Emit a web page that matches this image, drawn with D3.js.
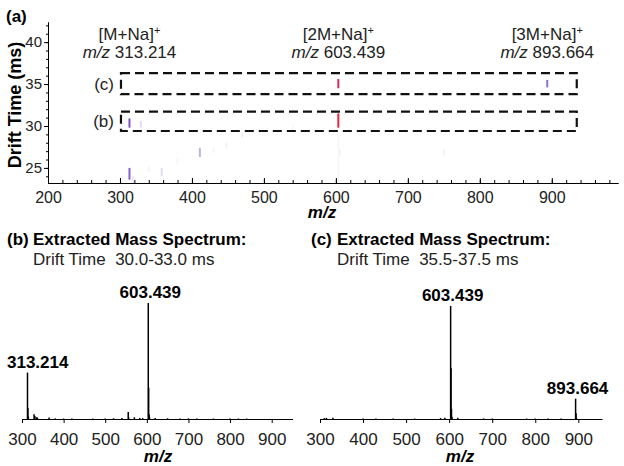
<!DOCTYPE html>
<html>
<head>
<meta charset="utf-8">
<script src="https://cdn.jsdelivr.net/npm/d3@7"></script>
<style>
  body { margin: 0; background: #fff; }
  svg { display: block; font-family: "Liberation Sans", Arial, sans-serif; }
  .axis path, .axis line { stroke: #000; }
  .axis text { fill: #222; font-family: "Liberation Sans", Arial, sans-serif; }
</style>
</head>
<body>
<div id="chart"></div>
<script>
// ion labels above the drift time map
const ionNames = ["[M+Na]", "[2M+Na]", "[3M+Na]"];
const ionMz = [313.214, 603.439, 893.664];

// drift time map spots: m/z, drift low, drift high, relative intensity
const spotMz    = [313.2, 329, 313.2, 318, 358, 411, 448, 470, 603.4, 603.4, 893.7, 605, 750, 603.4, 340, 380, 430, 500, 540];
const spotLow   = [29.8, 29.8, 23.6, 23.2, 24.0, 26.3, 27.3, 28.6, 29.8, 34.5, 34.6, 26.5, 26.5, 23.2, 24.5, 25.5, 26.8, 28.7, 29.5];
const spotHigh  = [30.9, 30.6, 25.0, 24.0, 25.0, 27.4, 28.0, 29.2, 31.5, 35.6, 35.5, 27.2, 27.2, 29.6, 25.2, 26.2, 27.4, 29.3, 30.1];
const spotInt   = [0.7, 0.22, 0.65, 0.15, 0.22, 0.4, 0.1, 0.1, 1.0, 0.95, 0.6, 0.12, 0.08, 0.05, 0.07, 0.07, 0.07, 0.06, 0.06];

// dashed selection boxes (m/z range, drift range)
const boxLabels = ["(c)", "(b)"];
const boxMz = [[301.4, 934.7], [301.4, 934.7]];
const boxDt = [[33.8, 36.3], [29.4, 31.7]];

// extracted spectra: m/z and relative intensity
const specBmz = [313.2, 314.2, 315.2, 329, 331, 335, 337, 365, 380, 400, 420, 470, 500, 520, 540, 555.3, 556.3, 570, 583, 590, 603.4, 604.4, 605.4, 606.4, 620, 650, 680, 700, 720, 760, 800, 820, 840];
const specBint = [40, 9.5, 2, 4, 2.5, 1.5, 1.2, 1.2, 0.5, 0.4, 0.4, 0.4, 0.5, 0.6, 0.8, 6, 1.5, 1.5, 0.8, 0.8, 100, 27, 4, 1.5, 0.8, 0.6, 0.5, 0.5, 0.4, 0.4, 0.4, 0.4, 0.4];
const specCmz = [310, 315, 330, 400, 430, 470, 520, 580, 590, 603.4, 604.4, 605.4, 606.4, 620, 680, 700, 780, 800, 830, 860, 893.7, 894.7, 895.7];
const specCint = [0.8, 1, 1, 0.4, 0.4, 0.4, 0.4, 0.8, 1, 100, 45, 9, 2, 1, 0.5, 0.5, 0.4, 0.4, 0.4, 0.4, 18, 5, 1];
const specBlabels = [[313.214, 40, "start"], [603.439, 100, "middle"]];
const specClabels = [[603.439, 100, "middle"], [893.664, 18, "middle"]];

const xTicksTop = [200, 300, 400, 500, 600, 700, 800, 900];
const yTicksTop = [25, 30, 35, 40];
const xTicksSpec = [300, 400, 500, 600, 700, 800, 900];

const width = 624, height = 466;
const svg = d3.select('#chart').append('svg')
  .attr('width', width)
  .attr('height', height);

// ---------- panel (a): drift time vs m/z ----------
const xTop = d3.scaleLinear().domain([200, 992]).range([48, 618]);
const yTop = d3.scaleLinear().domain([23.2, 42.4]).range([183, 22]);
const color = d3.scaleLinear()
  .domain([0, 0.3, 0.7, 1])
  .range(["#ffffff", "#d9d0ef", "#7a52c6", "#e4283c"]);

const spots = spotMz.map((m, i) => ({ mz: m, lo: spotLow[i], hi: spotHigh[i], v: spotInt[i] }));
svg.append('g')
  .selectAll('rect')
  .data(spots)
  .enter().append('rect')
  .attr('x', d => xTop(d.mz) - 1)
  .attr('width', 2)
  .attr('y', d => yTop(d.hi))
  .attr('height', d => yTop(d.lo) - yTop(d.hi))
  .attr('fill', d => color(d.v));

// x axis, ticks point up into the plot
svg.append('g')
  .attr('class', 'axis')
  .attr('transform', 'translate(0,183)')
  .call(d3.axisBottom(xTop).tickValues(d3.range(200, 992, 20)).tickSize(-3).tickSizeOuter(0).tickFormat(''));
svg.append('g')
  .attr('class', 'axis')
  .attr('transform', 'translate(0,183)')
  .call(d3.axisBottom(xTop).tickValues(xTicksTop).tickSize(-5).tickSizeOuter(0).tickPadding(9))
  .selectAll('text').style('font-size', '16px');

svg.append('g')
  .attr('class', 'axis')
  .attr('transform', 'translate(48,0)')
  .call(d3.axisLeft(yTop).tickValues(d3.range(24, 43, 1)).tickSize(2).tickSizeOuter(0).tickFormat(''));
svg.append('g')
  .attr('class', 'axis')
  .attr('transform', 'translate(48,0)')
  .call(d3.axisLeft(yTop).tickValues(yTicksTop).tickSize(4).tickSizeOuter(0).tickPadding(2))
  .selectAll('text').style('font-size', '15px');

svg.append('text')
  .attr('transform', 'translate(21,105) rotate(-90)')
  .attr('text-anchor', 'middle')
  .style('font-size', '18px')
  .style('font-weight', 'bold')
  .text('Drift Time (ms)');

svg.append('text')
  .attr('x', 322).attr('y', 218)
  .attr('text-anchor', 'middle')
  .style('font-size', '17px').style('font-weight', 'bold').style('font-style', 'italic')
  .text('m/z');

svg.append('text')
  .attr('x', 6).attr('y', 22)
  .style('font-size', '17px').style('font-weight', 'bold')
  .text('(a)');

// selection boxes
boxLabels.forEach((lab, i) => {
  const x0 = xTop(boxMz[i][0]), x1 = xTop(boxMz[i][1]);
  const y0 = yTop(boxDt[i][1]), y1 = yTop(boxDt[i][0]);
  svg.append('rect')
    .attr('x', x0).attr('y', y0)
    .attr('width', x1 - x0).attr('height', y1 - y0)
    .attr('fill', 'none')
    .attr('stroke', '#111')
    .attr('stroke-width', 2.2)
    .attr('stroke-dasharray', '9,5');
  svg.append('text')
    .attr('x', x0 - 7).attr('y', (y0 + y1) / 2 + 6)
    .attr('text-anchor', 'end')
    .style('font-size', '17px')
    .attr('fill', '#222')
    .text(lab);
});

// ion labels
ionNames.forEach((n, i) => {
  const t = svg.append('text')
    .attr('x', xTop(ionMz[i])).attr('y', 40)
    .attr('text-anchor', 'middle')
    .style('font-size', '17px').attr('fill', '#222');
  t.append('tspan').text(n);
  t.append('tspan').attr('dy', -6).style('font-size', '11px').text('+');
  const t2 = svg.append('text')
    .attr('x', xTop(ionMz[i])).attr('y', 58)
    .attr('text-anchor', 'middle')
    .style('font-size', '17px').attr('fill', '#222');
  t2.append('tspan').style('font-style', 'italic').text('m/z');
  t2.append('tspan').text(' ' + ionMz[i].toFixed(3));
});

// ---------- panels (b) and (c): extracted spectra ----------
function drawSpectrum(opts) {
  const x = d3.scaleLinear().domain(opts.domain).range(opts.range);
  const y = d3.scaleLinear().domain([0, 100]).range([419, opts.top]);
  const peaks = opts.mz.map((m, i) => ({ mz: m, v: opts.int[i] }));

  svg.append('g')
    .selectAll('line')
    .data(peaks)
    .enter().append('line')
    .attr('x1', d => x(d.mz)).attr('x2', d => x(d.mz))
    .attr('y1', 419).attr('y2', d => y(d.v))
    .attr('stroke', '#000')
    .attr('stroke-width', 1.5);

  svg.append('g')
    .attr('class', 'axis')
    .attr('transform', 'translate(0,419)')
    .call(d3.axisBottom(x).tickValues(xTicksSpec).tickSize(4).tickSizeOuter(0).tickPadding(10))
    .selectAll('text').style('font-size', '17px');

  svg.append('text')
    .attr('x', opts.titleX).attr('y', 462)
    .attr('text-anchor', 'middle')
    .style('font-size', '17px').style('font-weight', 'bold').style('font-style', 'italic')
    .text('m/z');

  opts.labels.forEach(l => {
    svg.append('text')
      .attr('x', l[2] === 'start' ? opts.range[0] - 15 : x(l[0]) + 2)
      .attr('y', y(l[1]) - 5)
      .attr('text-anchor', l[2])
      .style('font-size', '17px').style('font-weight', 'bold')
      .text(l[0].toFixed(3));
  });

  svg.append('text')
    .attr('x', opts.tagX).attr('y', 245)
    .style('font-size', '17px').style('font-weight', 'bold')
    .text(opts.tag);
  svg.append('text')
    .attr('x', opts.tagX + 26).attr('y', 245)
    .style('font-size', '17px').style('font-weight', 'bold')
    .text('Extracted Mass Spectrum:');
  svg.append('text')
    .attr('x', opts.tagX + 26).attr('y', 265)
    .style('font-size', '17px').attr('fill', '#222')
    .attr('xml:space', 'preserve')
    .text('Drift Time  ' + opts.drift + ' ms');
}

drawSpectrum({
  domain: [300, 950], range: [22, 292.5], top: 303,
  mz: specBmz, int: specBint, labels: specBlabels,
  titleX: 158, tag: '(b)', tagX: 7, drift: '30.0-33.0'
});
drawSpectrum({
  domain: [300, 955], range: [320, 602], top: 306,
  mz: specCmz, int: specCint, labels: specClabels,
  titleX: 460, tag: '(c)', tagX: 311, drift: '35.5-37.5'
});
</script>
</body>
</html>
